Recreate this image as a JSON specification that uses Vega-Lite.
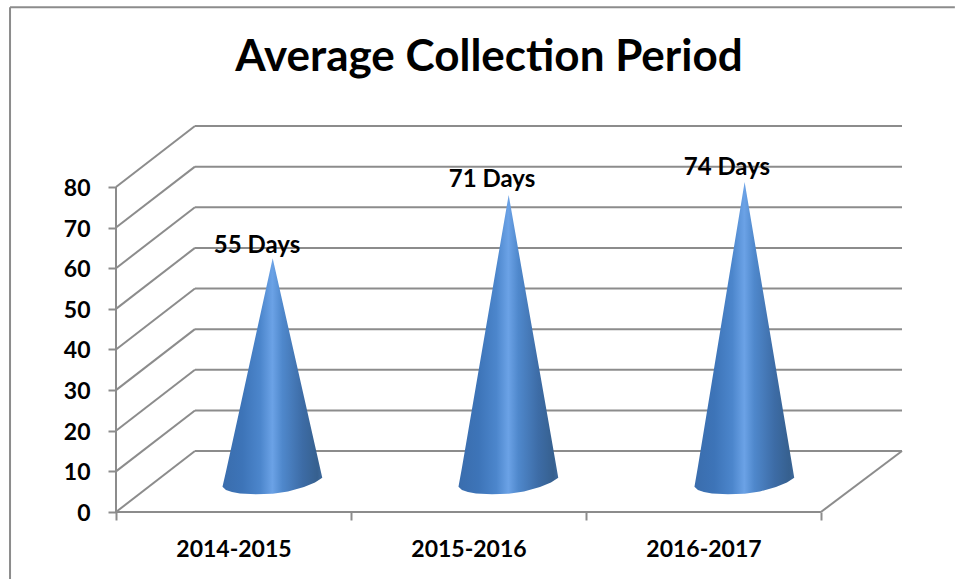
{
"$schema":"https://vega.github.io/schema/vega-lite/v6.json",
"width":786,"height":386,
"autosize":{"type":"none"},
"padding":{"left":116,"top":126,"right":54,"bottom":67},
"background":"white",
"config":{"view":{"stroke":null},"font":"Lato"},
"title":{"text":"Average Collection Period","font":"Lato","fontSize":44,"fontWeight":"bold","color":"#000000","anchor":"middle","dx":-20,"offset":-74},
"datasets":{
"lines":[
{"part":"frame","x":-0.451,"x2":-0.451,"y":124.2,"y2":-16.5},
{"part":"frame","x":-0.451,"x2":3.57,"y":124.2,"y2":124.2},
{"part":"axis","x":0,"x2":0,"y":0,"y2":80},
{"part":"floor","x":0,"x2":3,"y":0,"y2":0},
{"part":"floor","x":3,"x2":3.345,"y":0,"y2":15},
{"part":"side","x":0,"x2":0.336,"y":0,"y2":15},
{"part":"side","x":0,"x2":0.336,"y":10,"y2":25},
{"part":"side","x":0,"x2":0.336,"y":20,"y2":35},
{"part":"side","x":0,"x2":0.336,"y":30,"y2":45},
{"part":"side","x":0,"x2":0.336,"y":40,"y2":55},
{"part":"side","x":0,"x2":0.336,"y":50,"y2":65},
{"part":"side","x":0,"x2":0.336,"y":60,"y2":75},
{"part":"side","x":0,"x2":0.336,"y":70,"y2":85},
{"part":"side","x":0,"x2":0.336,"y":80,"y2":95},
{"part":"back","x":0.336,"x2":3.345,"y":15,"y2":15},
{"part":"back","x":0.336,"x2":3.345,"y":25,"y2":25},
{"part":"back","x":0.336,"x2":3.345,"y":35,"y2":35},
{"part":"back","x":0.336,"x2":3.345,"y":45,"y2":45},
{"part":"back","x":0.336,"x2":3.345,"y":55,"y2":55},
{"part":"back","x":0.336,"x2":3.345,"y":65,"y2":65},
{"part":"back","x":0.336,"x2":3.345,"y":75,"y2":75},
{"part":"back","x":0.336,"x2":3.345,"y":85,"y2":85},
{"part":"back","x":0.336,"x2":3.345,"y":95,"y2":95}
],
"cones":[
{"period":"2014-2015","u":0.4532,"top":6.23,"bottom":6.23},
{"period":"2014-2015","u":0.4681,"top":9.94,"bottom":5.42},
{"period":"2014-2015","u":0.4936,"top":16.69,"bottom":4.92},
{"period":"2014-2015","u":0.5277,"top":25.67,"bottom":4.55},
{"period":"2014-2015","u":0.5957,"top":43.67,"bottom":4.36},
{"period":"2014-2015","u":0.6638,"top":61.66,"bottom":4.48},
{"period":"2014-2015","u":0.6668,"top":62.45,"bottom":4.5},
{"period":"2014-2015","u":0.7319,"top":45.78,"bottom":5.05},
{"period":"2014-2015","u":0.8,"top":28.38,"bottom":6.15},
{"period":"2014-2015","u":0.8468,"top":16.39,"bottom":7.26},
{"period":"2014-2015","u":0.8779,"top":8.44,"bottom":8.44},
{"period":"2015-2016","u":1.4575,"top":6.23,"bottom":6.23},
{"period":"2015-2016","u":1.4724,"top":10.97,"bottom":5.42},
{"period":"2015-2016","u":1.4979,"top":19.58,"bottom":4.92},
{"period":"2015-2016","u":1.532,"top":31.07,"bottom":4.55},
{"period":"2015-2016","u":1.6,"top":54.05,"bottom":4.36},
{"period":"2015-2016","u":1.6681,"top":77.02,"bottom":4.48},
{"period":"2015-2016","u":1.6711,"top":78.03,"bottom":4.5},
{"period":"2015-2016","u":1.7362,"top":56.6,"bottom":5.05},
{"period":"2015-2016","u":1.8043,"top":34.19,"bottom":6.15},
{"period":"2015-2016","u":1.8511,"top":18.74,"bottom":7.26},
{"period":"2015-2016","u":1.8822,"top":8.44,"bottom":8.44},
{"period":"2016-2017","u":2.4617,"top":6.23,"bottom":6.23},
{"period":"2016-2017","u":2.4766,"top":11.18,"bottom":5.42},
{"period":"2016-2017","u":2.5021,"top":20.18,"bottom":4.92},
{"period":"2016-2017","u":2.5362,"top":32.18,"bottom":4.55},
{"period":"2016-2017","u":2.6042,"top":56.18,"bottom":4.36},
{"period":"2016-2017","u":2.6723,"top":80.18,"bottom":4.48},
{"period":"2016-2017","u":2.6753,"top":81.23,"bottom":4.5},
{"period":"2016-2017","u":2.7404,"top":58.81,"bottom":5.05},
{"period":"2016-2017","u":2.8085,"top":35.37,"bottom":6.15},
{"period":"2016-2017","u":2.8553,"top":19.21,"bottom":7.26},
{"period":"2016-2017","u":2.8864,"top":8.44,"bottom":8.44}
],
"labels":[
{"period":"2014-2015","value":55,"text":"55 Days","u":0.6,"v":65.5},
{"period":"2015-2016","value":71,"text":"71 Days","u":1.6,"v":81.8},
{"period":"2016-2017","value":74,"text":"74 Days","u":2.6,"v":84.7}
]
},
"layer":[
{"data":{"name":"lines"},
 "mark":{"type":"rule","color":"#8c8c8c","strokeWidth":2},
 "encoding":{
  "x":{"field":"x","type":"quantitative","scale":{"domain":[0,3.345],"nice":false,"zero":false},
   "axis":{"title":null,"grid":false,"domain":false,"values":[0,0.5,1,1.5,2,2.5,3],
    "labelExpr":"datum.value==0.5?'2014-2015':datum.value==1.5?'2015-2016':datum.value==2.5?'2016-2017':''",
    "tickOpacity":{"condition":{"test":"datum.value%1==0","value":1},"value":0},
    "tickColor":"#8c8c8c","tickWidth":2,"tickSize":8,"labelPadding":18,"labelFont":"Lato","labelFontSize":23,"labelFontWeight":"bold","labelColor":"#000000","labelOverlap":false,"labelFlush":false,"labelBound":false}},
  "x2":{"field":"x2"},
  "y":{"field":"y","type":"quantitative","scale":{"domain":[0,95],"nice":false,"zero":false},
   "axis":{"title":null,"grid":false,"domain":false,"values":[0,10,20,30,40,50,60,70,80],
    "tickColor":"#8c8c8c","tickWidth":2,"tickSize":8,"labelPadding":18,"labelOffset":1.5,"labelFont":"Lato","labelFontSize":23,"labelFontWeight":"bold","labelColor":"#000000","labelOverlap":false,"labelBound":false}},
  "y2":{"field":"y2"}
 }},
{"data":{"name":"cones"},
 "mark":{"type":"area","orient":"vertical","fill":{"gradient":"linear","x1":0,"x2":1,"y1":0,"y2":0,"stops":[
   {"offset":0,"color":"#3a6dad"},{"offset":0.2,"color":"#3d74b8"},{"offset":0.38,"color":"#4c86cc"},{"offset":0.5,"color":"#6ba2e6"},{"offset":0.6,"color":"#4f88cc"},{"offset":0.8,"color":"#3d6ca6"},{"offset":0.95,"color":"#36608f"},{"offset":1,"color":"#3f6a9c"}]}},
 "encoding":{
  "x":{"field":"u","type":"quantitative"},
  "y":{"field":"top","type":"quantitative"},
  "y2":{"field":"bottom"},
  "detail":{"field":"period"}
 }},
{"data":{"name":"labels"},
 "mark":{"type":"text","font":"Lato","fontSize":24,"fontWeight":"bold","color":"#000000","align":"center","baseline":"middle"},
 "encoding":{
  "x":{"field":"u","type":"quantitative"},
  "y":{"field":"v","type":"quantitative"},
  "text":{"field":"text"}
 }}
]
}
